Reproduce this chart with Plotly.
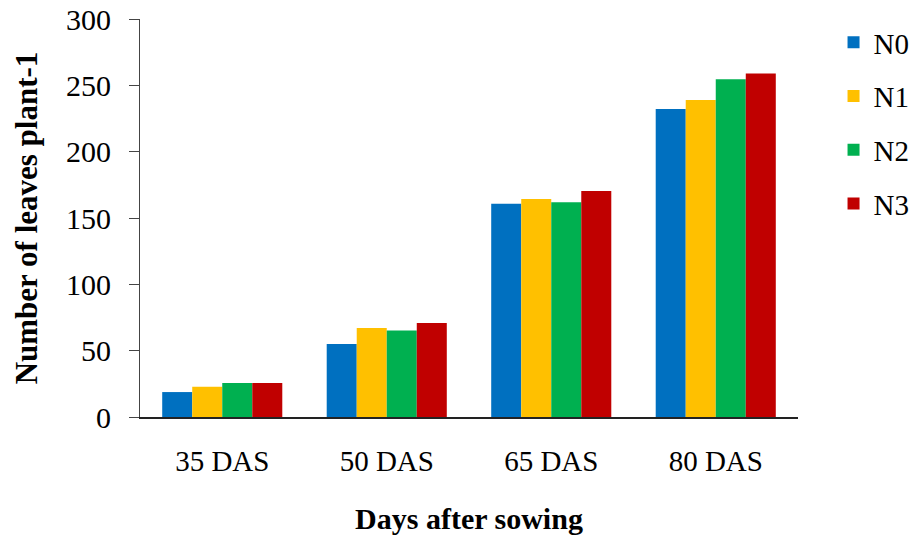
import plotly.graph_objects as go

# Growth stages (days after sowing)
stages = ["35 DAS", "50 DAS", "65 DAS", "80 DAS"]

# Number of leaves per plant for each nitrogen level
n0 = [18.8, 55.0, 160.8, 232.2]
n1 = [22.8, 67.0, 164.4, 238.9]
n2 = [25.6, 65.2, 161.9, 254.5]
n3 = [25.6, 70.8, 170.4, 259.0]

series = [("N0", n0, "#0070C0"), ("N1", n1, "#FFC000"),
          ("N2", n2, "#00B050"), ("N3", n3, "#C00000")]

fig = go.Figure()
for name, vals, color in series:
    fig.add_trace(go.Bar(
        x=stages, y=vals, name=name, legendgroup=name,
        marker=dict(color=color, line=dict(width=0)),
    ))

font_family = "Liberation Serif, Times New Roman, serif"

fig.update_layout(
    width=913, height=540,
    margin=dict(l=140, r=115, t=19, b=123, autoexpand=False),
    paper_bgcolor="white", plot_bgcolor="white",
    barmode="group", bargap=0.27, bargroupgap=0,
    font=dict(family=font_family, color="black", size=28),
    legend=dict(
        x=1.054, y=1.005, xanchor="left", yanchor="top",
        font=dict(size=29, family=font_family),
        tracegroupgap=13, itemwidth=30,
        bgcolor="rgba(0,0,0,0)",
    ),
    xaxis=dict(
        showline=True, linecolor="#222222", linewidth=1.5,
        ticks="", showgrid=False,
        tickfont=dict(size=29, family=font_family),
        ticklabelstandoff=17,
        title=dict(text="<b>Days after sowing</b>",
                   font=dict(size=30, family=font_family), standoff=32),
    ),
    yaxis=dict(
        range=[0, 300], dtick=50, showgrid=False, zeroline=False,
        showline=True, linecolor="#444444", linewidth=1.2,
        ticks="outside", ticklen=10, tickcolor="#444444",
        tickfont=dict(size=30, family=font_family),
        ticklabelstandoff=12,
        title=dict(text="<b>Number of leaves plant-1</b>",
                   font=dict(size=31, family=font_family), standoff=19),
    ),
)

fig.write_html("out.html")
